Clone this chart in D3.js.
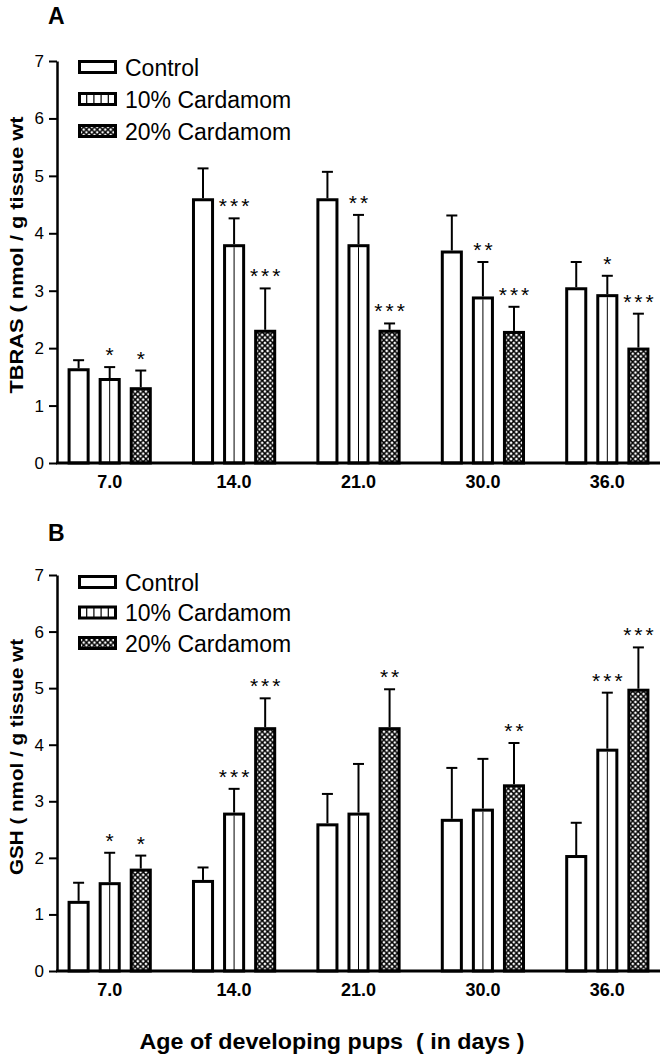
<!DOCTYPE html>
<html>
<head>
<meta charset="utf-8">
<script src="https://cdn.jsdelivr.net/npm/d3@7"></script>
<style>
  html, body { margin: 0; padding: 0; background: #fff; }
  svg { display: block; }
  text { font-family: "Liberation Sans", Arial, sans-serif; fill: #000; }
</style>
</head>
<body>
<svg id="chart" width="661" height="1061"></svg>
<script>
// ---------- data ----------
const ages = ["7.0", "14.0", "21.0", "30.0", "36.0"];
const seriesNames = ["Control", "10% Cardamom", "20% Cardamom"];
const yTicks = [0, 1, 2, 3, 4, 5, 6, 7];

// Panel A: TBRAS
const tbarsControl    = [1.65, 4.61, 4.61, 3.70, 3.06];
const tbarsControlErr = [0.14, 0.52, 0.46, 0.61, 0.44];
const tbars10         = [1.48, 3.81, 3.81, 2.90, 2.94];
const tbars10Err      = [0.19, 0.45, 0.51, 0.60, 0.32];
const tbars20         = [1.32, 2.32, 2.32, 2.30, 2.01];
const tbars20Err      = [0.29, 0.72, 0.11, 0.42, 0.59];
const tbarsSigControl = ["", "", "", "", ""];
const tbarsSig10      = ["*", "***", "**", "**", "*"];
const tbarsSig20      = ["*", "***", "***", "***", "***"];

// Panel B: GSH
const gshControl    = [1.24, 1.61, 2.61, 2.69, 2.05];
const gshControlErr = [0.32, 0.22, 0.52, 0.90, 0.57];
const gsh10         = [1.57, 2.80, 2.80, 2.87, 3.93];
const gsh10Err      = [0.52, 0.42, 0.86, 0.88, 0.99];
const gsh20         = [1.81, 4.31, 4.31, 3.30, 4.99];
const gsh20Err      = [0.23, 0.51, 0.67, 0.73, 0.73];
const gshSigControl = ["", "", "", "", ""];
const gshSig10      = ["*", "***", "", "", "***"];
const gshSig20      = ["*", "***", "**", "**", "***"];

// ---------- drawing ----------
const svg = d3.select("#chart");
const defs = svg.append("defs");
const P = 5.4;
const pat = defs.append("pattern")
  .attr("id", "xhatch").attr("patternUnits", "userSpaceOnUse")
  .attr("width", P).attr("height", P);
pat.append("rect").attr("width", P).attr("height", P).attr("fill", "#fff");
pat.append("path")
  .attr("d", `M0,0L${P},${P}M${P},0L0,${P}M-1,${P - 1}L1,${P + 1}M${P - 1},-1L${P + 1},1M-1,1L1,-1M${P - 1},${P + 1}L${P + 1},${P - 1}`)
  .attr("stroke", "#000").attr("stroke-width", 1.45);

const xLeft = 57, xRight = 660;
const x0 = d3.scaleBand().domain(ages).range([xLeft, xRight]).paddingInner(0.323).paddingOuter(0.085);
const x1 = d3.scaleBand().domain(seriesNames).range([0, x0.bandwidth()]).paddingInner(0.29).paddingOuter(0);

function panel(cfg) {
  const y = d3.scaleLinear().domain([0, 7]).range([cfg.y0, cfg.y7]);
  const g = svg.append("g");

  // panel letter
  g.append("text").attr("x", 48).attr("y", cfg.letterY)
    .attr("font-size", 23).attr("font-weight", "bold").text(cfg.letter);

  // y axis
  const ya = g.append("g").attr("transform", `translate(${xLeft},0)`)
    .call(d3.axisLeft(y).tickValues(yTicks).tickSize(8).tickSizeOuter(0).tickPadding(5).tickFormat(d3.format("d")));
  ya.select(".domain").attr("stroke-width", 2.5);
  ya.selectAll(".tick line").attr("stroke-width", 2);
  ya.selectAll(".tick text").attr("font-size", 17).attr("font-family", "Liberation Sans, Arial, sans-serif").attr("fill", "#000");

  // y title
  g.append("text")
    .attr("transform", `translate(${cfg.titleX},${cfg.titleCy}) rotate(-90)`)
    .attr("text-anchor", "middle").attr("dy", "0.35em")
    .attr("font-size", 19).attr("font-weight", "bold")
    .attr("textLength", cfg.titleLen).attr("lengthAdjust", "spacingAndGlyphs")
    .style("white-space", "pre")
    .text(cfg.title);

  // bars
  const rows = [];
  ages.forEach((a, i) => {
    seriesNames.forEach((s, j) => {
      rows.push({ age: a, s, j, v: cfg.vals[j][i], e: cfg.errs[j][i], sig: cfg.sigs[j][i] });
    });
  });
  const bw = x1.bandwidth();
  const bars = g.selectAll("g.bar").data(rows).join("g").attr("class", "bar")
    .attr("transform", d => `translate(${x0(d.age) + x1(d.s)},0)`);

  // error bars (behind)
  bars.append("line").attr("x1", bw / 2).attr("x2", bw / 2)
    .attr("y1", d => y(d.v)).attr("y2", d => y(d.v + d.e))
    .attr("stroke", "#000").attr("stroke-width", 2);
  bars.append("line").attr("x1", bw / 2 - 5.5).attr("x2", bw / 2 + 5.5)
    .attr("y1", d => y(d.v + d.e)).attr("y2", d => y(d.v + d.e))
    .attr("stroke", "#000").attr("stroke-width", 2);

  bars.append("rect")
    .attr("x", 1.5).attr("width", bw - 3)
    .attr("y", d => y(d.v) + 1.5).attr("height", d => y(0) - y(d.v) - 1.5)
    .attr("fill", d => d.j === 2 ? "url(#xhatch)" : "#fff")
    .attr("stroke", "#000").attr("stroke-width", 3);
  bars.filter(d => d.j === 1).append("line")
    .attr("x1", bw / 2).attr("x2", bw / 2)
    .attr("y1", d => y(d.v) + 3).attr("y2", y(0))
    .attr("stroke", "#000").attr("stroke-width", 1);

  bars.append("text").attr("x", bw / 2 + 1.5).attr("y", d => y(d.v + d.e) - 5)
    .attr("text-anchor", "middle").attr("font-size", 21)
    .style("letter-spacing", "3px")
    .text(d => d.sig);

  // x axis
  const xa = g.append("g").attr("transform", `translate(0,${y(0)})`)
    .call(d3.axisBottom(x0).tickSize(0).tickPadding(12).tickSizeOuter(0));
  xa.select(".domain").attr("stroke-width", 3).attr("d", `M${xLeft - 1},0H${xRight}`);
  xa.selectAll(".tick text").attr("font-size", 18).attr("font-weight", "bold")
    .attr("font-family", "Liberation Sans, Arial, sans-serif").attr("fill", "#000");

  // legend
  const lg = g.append("g");
  seriesNames.forEach((s, j) => {
    const cy = cfg.legY + j * cfg.legStep;
    lg.append("rect").attr("x", 79.5).attr("y", cy - 5.5).attr("width", 36).attr("height", 11)
      .attr("fill", j === 2 ? "url(#xhatch)" : "#fff").attr("stroke", "#000").attr("stroke-width", 3);
    if (j === 1) {
      [1, 2, 3, 4].forEach(k => {
        lg.append("line").attr("x1", 79.5 + k * 7.2).attr("x2", 79.5 + k * 7.2)
          .attr("y1", cy - 5.5).attr("y2", cy + 5.5).attr("stroke", "#000").attr("stroke-width", 1.2);
      });
    }
    lg.append("text").attr("x", 125).attr("y", cy + 8.5).attr("font-size", 23).text(s);
  });
}

panel({
  letter: "A", letterY: 24, y0: 463, y7: 61,
  title: "TBRAS ( nmol / g tissue wt", titleX: 16, titleCy: 255, titleLen: 277,
  vals: [tbarsControl, tbars10, tbars20], errs: [tbarsControlErr, tbars10Err, tbars20Err],
  sigs: [tbarsSigControl, tbarsSig10, tbarsSig20],
  legY: 67, legStep: 32
});
panel({
  letter: "B", letterY: 541, y0: 971, y7: 575,
  title: "GSH ( nmol / g tissue wt", titleX: 16, titleCy: 757, titleLen: 236,
  vals: [gshControl, gsh10, gsh20], errs: [gshControlErr, gsh10Err, gsh20Err],
  sigs: [gshSigControl, gshSig10, gshSig20],
  legY: 582, legStep: 30.5
});

svg.append("text").attr("x", 332).attr("y", 1049).attr("text-anchor", "middle")
  .attr("font-size", 22).attr("font-weight", "bold")
  .attr("textLength", 385).attr("lengthAdjust", "spacingAndGlyphs")
  .style("white-space", "pre")
  .text("Age of developing pups  ( in days )");
</script>
</body>
</html>
